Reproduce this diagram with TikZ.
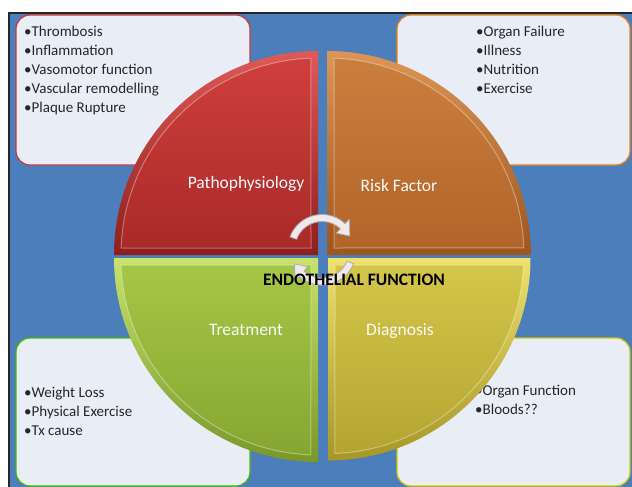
\documentclass[tikz,border=0pt]{standalone}
\usepackage{fontspec}
\setmainfont{Carlito}
\definecolor{bgblue}{HTML}{4B7EBB}
\definecolor{boxfill}{HTML}{E9EDF6}
\definecolor{listink}{HTML}{262626}
% sector colours: rim top/bottom, face top/bottom
\definecolor{redrimT}{HTML}{DE5A57}\definecolor{redrimB}{HTML}{8E1E1C}
\definecolor{redT}{HTML}{CF3F3D}\definecolor{redB}{HTML}{A92A28}
\definecolor{orgrimT}{HTML}{DC9556}\definecolor{orgrimB}{HTML}{9C561E}
\definecolor{orgT}{HTML}{CB7F3E}\definecolor{orgB}{HTML}{B2642A}
\definecolor{grnrimT}{HTML}{C8E36C}\definecolor{grnrimB}{HTML}{789828}
\definecolor{grnT}{HTML}{A5C646}\definecolor{grnB}{HTML}{86A632}
\definecolor{yelrimT}{HTML}{EEE16C}\definecolor{yelrimB}{HTML}{A69626}
\definecolor{yelT}{HTML}{D4C64A}\definecolor{yelB}{HTML}{B3A530}
\definecolor{arrowfill}{HTML}{F1E8EC}
\begin{document}
\begin{tikzpicture}[x=1pt,y=-1pt,
  listbox/.style={fill=boxfill,line width=1.2pt,rounded corners=14pt},
  % multi-line nodes: the base anchor sits on the last line's baseline
  listtext/.style={anchor=base west,inner sep=0pt,align=left,text=listink,
    font=\fontsize{15}{19}\selectfont},
  sectorlabel/.style={anchor=base,inner sep=0pt,text=white!95!gray,
    font=\fontsize{17.5}{20}\selectfont},
  rimline/.style={draw=white,draw opacity=0.35,line width=1pt},
  turnarrow/.style={fill=arrowfill,draw=gray!65,line width=0.8pt,line join=round}]
\useasboundingbox (0,0) rectangle (632,487);

% background panel with its frame
\fill[bgblue] (9,13) rectangle (632,487);
\draw[black!85,line width=2pt] (9,487) -- (9,13) -- (632,13);

% four note boxes
\draw[listbox,draw=red!55!gray] (16,15) rectangle (250,165);
\draw[listbox,draw=orange!70!brown] (397,15) rectangle (630,165);
\draw[listbox,draw=green!45!olive] (16,338) rectangle (250,486);
\draw[listbox,draw=yellow!60!olive] (397,338) rectangle (630,486);

\node[listtext] (tlnotes) at (24,112) {•Thrombosis\\•Inflammation\\•Vasomotor function\\•Vascular remodelling\\•Plaque Rupture};
\node[listtext] (trnotes) at (476,93) {•Organ Failure\\•Illness\\•Nutrition\\•Exercise};
\node[listtext] (blnotes) at (24,435) {•Weight Loss\\•Physical Exercise\\•Tx cause};
\node[listtext] (brnotes) at (475,414.5) {•Organ Function\\•Bloods??};

% Pathophysiology sector (upper left)
\shade[top color=redrimT,bottom color=redrimB]
  (318,255) -- (114,255) arc[start angle=180,end angle=270,radius=204] -- cycle;
\shade[top color=redT,bottom color=redB]
  (311,248) -- (121.1,248) arc[start angle=182.04,end angle=267.96,radius=197] -- cycle;
\path[rimline] (311,248) -- (121.1,248) arc[start angle=182.04,end angle=267.96,radius=197] -- cycle;

% Risk Factor sector (upper right)
\shade[top color=orgrimT,bottom color=orgrimB]
  (327,255) -- (327,51) arc[start angle=270,end angle=360,radius=204] -- cycle;
\shade[top color=orgT,bottom color=orgB]
  (334,248) -- (334,58.1) arc[start angle=272.04,end angle=357.96,radius=197] -- cycle;
\path[rimline] (334,248) -- (334,58.1) arc[start angle=272.04,end angle=357.96,radius=197] -- cycle;

% Treatment sector (lower left)
\shade[top color=grnrimT,bottom color=grnrimB]
  (318,258) -- (114,258) arc[start angle=180,end angle=90,radius=204] -- cycle;
\shade[top color=grnT,bottom color=grnB]
  (311,265) -- (121.1,265) arc[start angle=177.96,end angle=92.04,radius=197] -- cycle;
\path[rimline] (311,265) -- (121.1,265) arc[start angle=177.96,end angle=92.04,radius=197] -- cycle;

% Diagnosis sector (lower right)
\shade[top color=yelrimT,bottom color=yelrimB]
  (328,258) -- (530.5,258) arc[start angle=0,end angle=90,radius=202.5] -- cycle;
\shade[top color=yelT,bottom color=yelB]
  (335,265) -- (523.37,265) arc[start angle=2.05,end angle=87.95,radius=195.5] -- cycle;
\path[rimline] (335,265) -- (523.37,265) arc[start angle=2.05,end angle=87.95,radius=195.5] -- cycle;

% sector labels
\node[sectorlabel] (patho) at (246,188) {Pathophysiology};
\node[sectorlabel] (risk) at (399,191.5) {Risk Factor};
\node[sectorlabel] (treat) at (246,335.5) {Treatment};
\node[sectorlabel] (diag) at (400,335) {Diagnosis};

% turning arrows in the middle
\begin{scope}[shift={(322,248.5)}]
  \draw[turnarrow] (200:34) arc[start angle=200,end angle=313,radius=34]
    -- (313:40) -- (336:30.5) -- (313:21) -- (313:27)
    arc[start angle=313,end angle=200,radius=27] -- cycle;
\end{scope}
\begin{scope}[shift={(322,251)}]
  \draw[turnarrow] (22:34) arc[start angle=22,end angle=132,radius=34]
    -- (132:40) -- (155:30.5) -- (132:21) -- (132:27)
    arc[start angle=132,end angle=22,radius=27] -- cycle;
\end{scope}

\node[anchor=base,inner sep=0pt,font=\fontsize{17.5}{20}\selectfont\bfseries] (title) at (354,285.5) {ENDOTHELIAL FUNCTION};
\end{tikzpicture}
\end{document}
